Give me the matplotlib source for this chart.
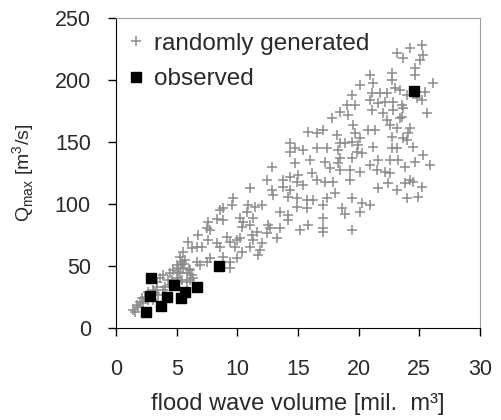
import matplotlib
matplotlib.use("Agg")
import matplotlib.pyplot as plt

plt.rcParams['font.family'] = ['Liberation Sans', 'DejaVu Sans']

# randomly generated flood waves (volume in mil. m3, Qmax in m3/s)
rand_x = [7.61, 8.30, 8.85, 7.48, 7.75, 6.79, 5.96, 6.24, 6.65, 7.06, 7.61, 8.30, 8.57, 9.12, 9.40, 9.95,
          9.81, 8.85, 9.40, 9.40, 9.95, 5.55, 5.28, 5.41, 5.00, 4.73, 5.14, 5.55, 5.83, 6.24, 6.10, 6.92,
          6.65, 7.48, 7.75, 4.45, 3.90, 3.63, 3.35, 3.35, 3.08, 2.66, 2.39, 1.98, 1.70, 1.43, 1.57, 2.12,
          5.00, 5.41, 5.83, 4.31, 4.45, 3.90, 3.49, 3.08, 5.69, 5.14, 6.10, 6.38,
          1.80, 2.20, 2.60, 3.20, 4.00, 4.60, 5.30, 5.60, 6.00, 5.40, 5.10,
          14.34, 14.76, 15.44, 14.34, 15.99, 14.76, 12.83, 12.42, 13.79, 14.34, 15.03, 14.89, 15.44, 16.13,
          16.54, 11.05, 12.83, 12.97, 13.79, 14.34, 14.21, 14.89, 15.72, 16.27, 14.89, 15.72, 9.67, 9.54,
          8.85, 8.57, 10.91, 11.46, 12.01, 10.77, 10.22, 10.50, 11.32, 11.05, 10.36, 13.52, 14.21, 14.21,
          13.52, 12.70, 12.42, 11.60, 11.19, 11.32, 12.01, 11.87, 11.73, 12.56, 13.25, 15.17, 15.85, 10.22,
          10.36, 11.05,
          19.42, 19.01, 19.70, 21.07, 21.76, 20.94, 21.62, 21.07, 18.46, 19.15, 17.78, 19.56, 20.11, 19.70,
          19.42, 20.80, 21.35, 17.09, 16.54, 15.85, 18.19, 18.46, 18.87, 19.97, 19.84, 20.25, 21.21, 17.36,
          18.32, 17.23, 18.46, 19.42, 17.64, 18.32, 18.46, 19.29, 20.11, 20.94, 21.62, 21.49, 22.17, 22.58,
          17.23, 17.91, 19.29, 21.62, 22.45, 23.13, 17.36, 18.05, 19.42, 20.25, 20.94, 18.60, 17.09, 16.54,
          25.20, 24.23, 23.13, 23.68, 25.33, 25.06, 24.65, 24.65, 22.72, 22.72, 26.16, 23.00, 23.41, 22.31,
          23.96, 25.47, 24.78, 25.20, 22.17, 22.86, 23.55, 23.68, 22.86, 25.61, 22.03, 22.31, 23.41, 22.58,
          23.13, 23.55, 24.23, 24.10, 22.72, 23.68, 23.96, 24.51, 22.72, 23.13, 25.33, 25.88, 24.65, 23.82,
          23.27, 22.58,
          20.94, 21.22, 20.12,
          23.83, 24.24, 24.52, 25.20, 23.97, 24.93, 20.12,
          17.09, 17.09, 17.09, 19.43, 18.90]
rand_q = [85.7, 87.9, 87.1, 80.9, 79.0, 75.0, 69.6, 64.2, 65.6, 65.6, 71.0, 68.3, 65.6, 73.7, 69.6, 71.0,
          65.6, 57.5, 53.5, 48.1, 56.2, 61.6, 57.5, 53.5, 50.8, 46.8, 45.4, 48.1, 44.1, 42.7, 46.8, 50.8,
          53.5, 53.5, 56.2, 44.1, 42.7, 40.1, 37.4, 33.3, 30.6, 29.3, 25.3, 21.2, 18.5, 14.5, 13.2, 23.9,
          40.1, 38.7, 37.4, 38.7, 34.7, 30.6, 26.6, 22.6, 54.8, 37.4, 38.7, 40.1,
          17.0, 20.0, 23.0, 28.0, 33.0, 39.0, 44.0, 52.0, 48.0, 50.8, 48.1,
          148.9, 144.9, 143.5, 142.2, 135.5, 132.8, 130.1, 119.4, 119.4, 122.0, 123.4, 118.0, 115.3, 124.7,
          119.4, 112.6, 111.3, 107.3, 114.0, 111.3, 105.9, 104.6, 103.2, 103.2, 97.8, 96.5, 104.6, 99.2,
          96.5, 95.2, 99.2, 97.8, 99.2, 93.8, 88.5, 85.7, 88.5, 83.1, 81.7, 93.8, 91.1, 87.1,
          80.4, 80.4, 76.4, 77.7, 75.0, 71.0, 68.3, 62.9, 58.9, 83.1, 72.3, 79.0, 83.1, 72.3,
          61.5, 65.6,
          187.9, 179.8, 179.8, 189.2, 189.2, 183.8, 181.1, 175.8, 174.4, 171.7, 169.0, 163.7, 152.9, 157.0,
          150.2, 159.6, 159.6, 159.6, 157.0, 158.3, 155.6, 148.9, 148.9, 147.5, 142.2, 140.8, 146.2, 144.9,
          143.5, 134.1, 136.8, 136.8, 128.7, 132.8, 127.4, 127.4, 126.0, 131.4, 135.4, 127.4, 126.0, 124.7,
          118.0, 118.0, 119.3, 112.6, 116.6, 111.3, 104.5, 108.6, 104.5, 100.5, 99.2, 96.5, 99.2, 144.9,
          228.2, 225.5, 221.5, 217.4, 220.1, 216.1, 209.4, 204.0, 205.4, 200.0, 197.3, 193.3, 191.9, 189.2,
          187.9, 190.6, 185.2, 183.8, 182.5, 182.5, 179.8, 177.1, 175.8, 173.1, 173.1, 167.7, 169.1, 163.7,
          161.0, 170.4, 161.0, 157.0, 154.3, 152.9, 151.6, 146.2, 144.9, 144.9, 139.5, 131.4, 134.1, 130.1,
          135.5, 135.5,
          204.0, 197.3, 195.9,
          116.6, 119.3, 118.0, 113.9, 104.5, 105.9, 93.8,
          88.4, 80.4, 77.7, 79.0, 91.9]

# observed flood waves
obs_x = [2.5, 2.8, 2.9, 3.7, 4.2, 4.8, 5.4, 5.7, 6.7, 8.5, 24.6]
obs_q = [13, 26, 40, 18, 25, 35, 24, 29, 33, 50, 191]

fig = plt.figure(figsize=(5.01, 4.2), dpi=100)
ax = fig.add_axes([0.2315, 0.219, 0.7265, 0.738])

ax.plot(rand_x, rand_q, linestyle='none', marker='+', color='#8c8c8c',
        markersize=7, markeredgewidth=1.1, label='randomly generated')
ax.plot(obs_x, obs_q, linestyle='none', marker='s', color='black',
        markersize=7, label='observed')

ax.set_xlim(0, 30)
ax.set_ylim(0, 250)
ax.set_xticks(range(0, 31, 5))
ax.set_yticks(range(0, 251, 50))

ax.spines['top'].set_color('#a0a0a0')
ax.spines['right'].set_color('#a0a0a0')
ax.spines['left'].set_color('black')
ax.spines['bottom'].set_color('black')
ax.tick_params(axis='both', direction='out', length=6, width=1, labelsize=15.5,
               labelcolor='#2a2a2a')
ax.tick_params(axis='x', pad=16)
ax.tick_params(axis='y', pad=12)

ax.set_xlabel('flood wave volume [mil.  m³]', fontsize=17, color='#2a2a2a', labelpad=10)
ax.set_ylabel(r'Q$_{\mathregular{max}}$ [m$^{\mathregular{3}}$/s]', fontsize=14,
              color='#2a2a2a', labelpad=13)

leg = ax.legend(loc='upper left', bbox_to_anchor=(0.005, 0.984), frameon=False,
                fontsize=17.5, handlelength=0.7, handletextpad=0.4,
                labelspacing=0.55, borderaxespad=0.0, borderpad=0.4)
for t in leg.get_texts():
    t.set_color('#2a2a2a')

fig.savefig('out.png', dpi=100)
